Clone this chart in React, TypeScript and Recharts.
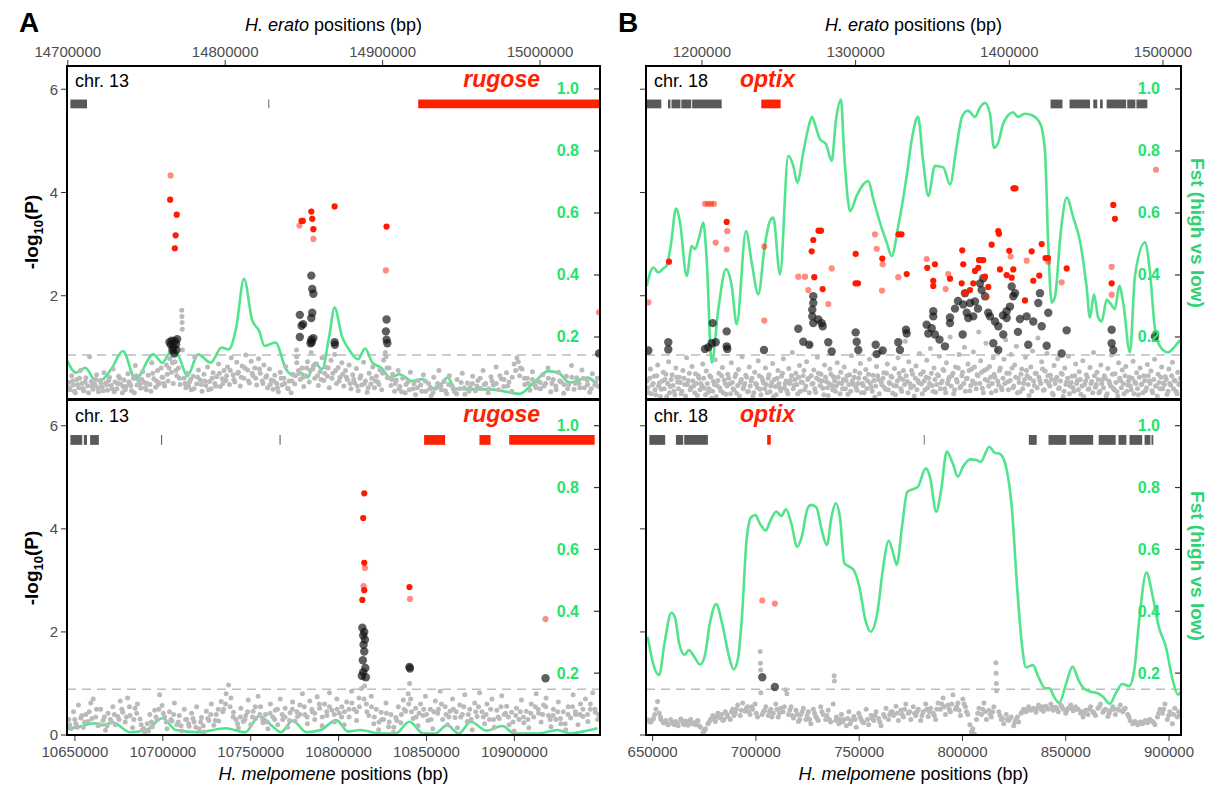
import React from "react";
import { ComposedChart, XAxis, YAxis, Scatter, Line, ReferenceLine, ReferenceArea } from "recharts";

type Pt = [number, number];
type Span = [number, number];

const FONT = "'Liberation Sans', Arial, Helvetica, sans-serif";
const TICK_GREY = "#4d4d4d";
const FST_LINE = "#52e48c";
const FST_TEXT = "#1fe46d";
const FST_TITLE = "#2dd375";
const RED = "#ff2200";
const GENE_GREY = "#595959";

// ---------- panel A : chr. 13 ----------
const erato13Ticks = [14700000, 14800000, 14900000, 15000000];
const melp13Ticks = [10650000, 10700000, 10750000, 10800000, 10850000, 10900000];

const fst13e: Pt[] = [
  [14699600, 0.123], [14705300, 0.085], [14711000, 0.101], [14717900, 0.058], [14722400, 0.064], [14728100, 0.101],
  [14735000, 0.155], [14743000, 0.064], [14754300, 0.144], [14760000, 0.117], [14765800, 0.155], [14770300, 0.139],
  [14776000, 0.074], [14782800, 0.144], [14790800, 0.117], [14797700, 0.166], [14802200, 0.16], [14806800, 0.225],
  [14812000, 0.388], [14817000, 0.257], [14821600, 0.219], [14825000, 0.171], [14831900, 0.182], [14838700, 0.096],
  [14844400, 0.074], [14847800, 0.085], [14852400, 0.069], [14856900, 0.117], [14861500, 0.096], [14866100, 0.203],
  [14869500, 0.295], [14874100, 0.203], [14878600, 0.16], [14884300, 0.128], [14888900, 0.163], [14893500, 0.117],
  [14899100, 0.101], [14904800, 0.069], [14910600, 0.08], [14918600, 0.058], [14925300, 0.064], [14933400, 0.031],
  [14941400, 0.069], [14945900, 0.034], [14955000, 0.031], [14968700, 0.031], [14986900, 0.017], [14996100, 0.053],
  [15005200, 0.09], [15012000, 0.083], [15018900, 0.053], [15030300, 0.069], [15037100, 0.04],
];

const red13e: Pt[] = [
  [14765000, 3.86], [14769200, 3.57], [14768500, 3.17], [14768000, 2.92], [14848500, 3.45], [14849300, 3.45],
  [14854700, 3.63], [14855300, 3.49], [14856000, 3.29], [14869500, 3.73], [14902500, 3.34],
];
const red13eFaint: Pt[] = [[14765300, 4.33], [14847200, 3.36], [14856000, 3.1], [14902100, 2.49], [15037500, 1.68]];

const black13e: Pt[] = [
  [14764600, 1.1], [14765500, 1.05], [14766500, 0.95], [14767000, 1.0], [14768000, 1.12], [14768800, 1.06],
  [14767500, 0.88], [14769000, 0.95], [14766000, 1.13], [14769500, 1.16], [14847400, 1.63], [14848500, 1.42],
  [14847400, 1.2], [14849500, 1.45], [14854700, 2.39], [14855300, 2.13], [14856000, 2.04], [14855300, 1.67],
  [14854700, 1.57], [14856000, 1.18], [14854700, 1.15], [14854200, 1.08], [14855000, 1.1], [14869500, 1.1],
  [14869700, 1.05], [14902500, 1.54], [14902100, 1.31], [14902500, 1.15], [14903000, 1.08], [15037500, 0.88],
];

const gray13e: Pt[] = [
  [14700500, 0.32], [14701500, 0.18], [14702500, 0.45], [14703500, 0.27], [14704800, 0.12], [14705600, 0.38],
  [14706900, 0.22], [14708000, 0.55], [14709100, 0.3], [14710200, 0.16], [14711500, 0.41], [14712600, 0.25],
  [14713800, 0.82], [14714900, 0.34], [14716000, 0.19], [14717200, 0.28], [14718300, 0.47], [14719500, 0.14],
  [14720700, 0.36], [14721800, 0.23], [14723000, 0.51], [14724100, 0.31], [14725300, 0.17], [14726500, 0.42],
  [14727600, 0.26], [14728800, 0.58], [14730000, 0.33], [14731200, 0.2], [14732300, 0.44], [14733500, 0.29],
  [14734700, 0.12], [14735800, 0.37], [14737000, 0.24], [14738200, 0.49], [14739400, 0.3], [14740500, 0.16],
  [14741700, 0.4], [14742900, 0.65], [14744000, 0.27], [14745200, 0.35], [14746400, 0.21], [14747600, 0.53],
  [14748700, 0.32], [14749900, 0.18], [14751100, 0.46], [14752200, 0.28], [14753400, 0.7], [14754600, 0.39],
  [14755800, 0.23], [14757000, 0.55], [14758100, 0.31], [14759300, 0.6], [14760400, 0.42], [14761500, 0.25],
  [14762600, 0.66], [14763700, 0.35], [14764800, 0.78], [14765900, 0.52], [14767000, 0.3], [14768100, 0.72],
  [14769200, 0.45], [14770300, 0.6], [14771400, 0.28], [14772400, 1.72], [14772500, 1.6], [14772600, 1.48],
  [14772700, 1.35], [14772800, 0.95], [14773900, 0.4], [14775000, 0.22], [14776100, 0.5], [14777300, 0.33],
  [14778400, 0.18], [14779600, 0.44], [14780700, 0.81], [14781900, 0.29], [14783000, 0.56], [14784200, 0.37],
  [14785300, 0.15], [14786500, 0.48], [14787700, 0.26], [14788800, 0.62], [14790000, 0.34], [14791100, 0.2],
  [14792300, 0.51], [14793400, 0.3], [14794600, 0.43], [14795800, 0.68], [14796900, 0.24], [14798100, 0.39],
  [14799200, 0.55], [14800400, 0.36], [14801500, 0.62], [14802700, 0.28], [14803800, 0.8], [14805000, 0.47],
  [14806100, 0.33], [14807300, 0.71], [14808400, 0.52], [14809600, 0.25], [14810800, 0.64], [14811900, 0.4],
  [14813100, 0.85], [14814200, 0.56], [14815400, 0.31], [14816500, 0.73], [14817700, 0.45], [14818800, 0.6],
  [14820000, 0.27], [14821200, 0.78], [14822300, 0.5], [14823500, 0.35], [14824600, 0.66], [14825800, 0.42],
  [14826900, 0.22], [14828100, 0.58], [14829200, 0.37], [14830400, 0.19], [14831500, 0.46], [14832700, 0.3],
  [14833800, 0.14], [14835000, 0.52], [14836100, 0.27], [14837300, 0.4], [14838400, 0.63], [14839600, 0.21],
  [14840700, 0.35], [14841900, 0.12], [14843000, 0.48], [14844200, 0.29], [14845300, 0.95], [14845400, 0.82],
  [14845500, 0.7], [14846500, 0.55], [14847700, 0.38], [14848800, 0.6], [14849900, 0.24], [14851100, 0.45],
  [14852300, 0.72], [14853400, 0.33], [14854600, 0.9], [14855700, 0.58], [14856900, 0.4], [14858000, 0.68],
  [14859200, 0.26], [14860300, 0.53], [14861500, 0.8], [14862600, 0.36], [14863800, 0.62], [14864900, 0.44],
  [14866100, 0.22], [14867200, 0.75], [14868400, 0.5], [14869500, 0.86], [14870700, 0.3], [14871800, 0.61],
  [14873000, 0.42], [14874100, 0.7], [14875300, 0.25], [14876400, 0.55], [14877600, 0.38], [14878700, 0.66],
  [14879900, 0.2], [14881000, 0.47], [14882200, 0.31], [14883300, 0.59], [14884500, 0.16], [14885600, 0.4],
  [14886800, 0.27], [14887900, 0.71], [14889100, 0.35], [14890200, 0.13], [14891400, 0.5], [14892500, 0.29],
  [14893700, 0.62], [14894800, 0.22], [14896000, 0.44], [14897100, 0.33], [14898300, 0.56], [14899400, 0.18],
  [14900600, 0.75], [14901700, 0.9], [14902200, 0.82], [14903000, 0.41], [14904100, 0.6], [14905300, 0.26],
  [14906400, 0.48], [14907600, 0.15], [14908700, 0.37], [14909900, 0.55], [14911000, 0.24], [14912700, 0.4],
  [14914300, 0.12], [14916000, 0.33], [14917600, 0.52], [14919300, 0.2], [14920900, 0.08], [14922600, 0.36],
  [14924200, 0.27], [14925900, 0.47], [14927500, 0.15], [14929200, 0.3], [14930800, 0.06], [14932500, 0.42],
  [14934100, 0.22], [14935800, 0.55], [14937400, 0.18], [14939100, 0.34], [14940700, 0.1], [14942400, 0.45],
  [14944000, 0.26], [14945700, 0.14], [14947300, 0.38], [14949000, 0.2], [14950600, 0.5], [14952300, 0.09],
  [14953900, 0.31], [14955600, 0.23], [14957200, 0.44], [14958900, 0.16], [14960500, 0.36], [14962200, 0.21],
  [14963800, 0.55], [14965500, 0.3], [14967100, 0.12], [14968800, 0.43], [14970400, 0.27], [14972100, 0.62],
  [14973700, 0.18], [14975400, 0.39], [14977000, 0.24], [14978700, 0.51], [14980300, 0.33], [14982000, 0.15],
  [14983600, 0.68], [14985300, 0.8], [14986200, 0.72], [14987000, 0.45], [14988600, 0.58], [14990300, 0.28],
  [14991900, 0.4], [14993600, 0.17], [14995200, 0.53], [14996900, 0.26], [14998500, 0.35], [15000200, 0.2],
  [15001800, 0.47], [15003500, 0.3], [15005100, 0.6], [15006800, 0.14], [15008400, 0.38], [15010100, 0.25],
  [15011700, 0.52], [15013400, 0.33], [15015000, 0.11], [15016700, 0.44], [15018300, 0.28], [15020000, 0.65],
  [15021600, 0.19], [15023300, 0.41], [15024900, 0.3], [15026600, 0.56], [15028200, 0.22], [15029900, 0.37],
  [15031500, 0.13], [15033200, 0.49], [15034800, 0.27], [15036400, 0.4],
];

// denser low part of the band
const gray13eLow: Pt[] = [
  [14701000, 0.22], [14703000, 0.35], [14704200, 0.15], [14706300, 0.28], [14707500, 0.4], [14709600, 0.2],
  [14711000, 0.33], [14713200, 0.12], [14715500, 0.25], [14717800, 0.38], [14719000, 0.22], [14721200, 0.3],
  [14722500, 0.16], [14724700, 0.27], [14726000, 0.36], [14728200, 0.2], [14729500, 0.14], [14731800, 0.3],
  [14733000, 0.4], [14735200, 0.24], [14736500, 0.18], [14738800, 0.33], [14740000, 0.26], [14742300, 0.12],
  [14743500, 0.45], [14745800, 0.28], [14747000, 0.38], [14749300, 0.22], [14750500, 0.3], [14752800, 0.15],
  [14754000, 0.5], [14756400, 0.35], [14757500, 0.28], [14759900, 0.42], [14761000, 0.3], [14763200, 0.48],
  [14764300, 0.6], [14766500, 0.7], [14768700, 0.55], [14770900, 0.4], [14774500, 0.3], [14776700, 0.25],
  [14778000, 0.38], [14780200, 0.2], [14782500, 0.42], [14784800, 0.28], [14787100, 0.35], [14789400, 0.18],
  [14791700, 0.4], [14794000, 0.25], [14796300, 0.5], [14798600, 0.3], [14800900, 0.45], [14803200, 0.55],
  [14805500, 0.38], [14807900, 0.5], [14810200, 0.42], [14812500, 0.6], [14814800, 0.35], [14817100, 0.5],
  [14819400, 0.4], [14821700, 0.58], [14824000, 0.3], [14826300, 0.45], [14828600, 0.28], [14830900, 0.35],
  [14833200, 0.22], [14835500, 0.4], [14837800, 0.3], [14840100, 0.2], [14842400, 0.35], [14844700, 0.45],
  [14847100, 0.5], [14849400, 0.42], [14851700, 0.6], [14854000, 0.55], [14856300, 0.65], [14858600, 0.45],
  [14860900, 0.38], [14863200, 0.5], [14865500, 0.6], [14867800, 0.4], [14870100, 0.55], [14872400, 0.35],
  [14874700, 0.48], [14877000, 0.42], [14879300, 0.3], [14881600, 0.38], [14883900, 0.25], [14886200, 0.45],
  [14888500, 0.3], [14890800, 0.22], [14893100, 0.4], [14895400, 0.35], [14897700, 0.28], [14900000, 0.5],
  [14902800, 0.6], [14905800, 0.38], [14908100, 0.3], [14910400, 0.2], [14912000, 0.14], [14914900, 0.28],
  [14917000, 0.18], [14919900, 0.3], [14922000, 0.22], [14924900, 0.15], [14927000, 0.35], [14929900, 0.2],
  [14932000, 0.12], [14934900, 0.3], [14937000, 0.25], [14939900, 0.16], [14942000, 0.28], [14944900, 0.2],
  [14947000, 0.1], [14949900, 0.32], [14952000, 0.22], [14954900, 0.15], [14957000, 0.3], [14959900, 0.25],
  [14962000, 0.4], [14964600, 0.28], [14967300, 0.2], [14969500, 0.35], [14972200, 0.3], [14974500, 0.45],
  [14977200, 0.38], [14979500, 0.25], [14982300, 0.42], [14984500, 0.55], [14987500, 0.6], [14990100, 0.4],
  [14992500, 0.3], [14995200, 0.38], [14997500, 0.22], [15000100, 0.32], [15002500, 0.25], [15005300, 0.4],
  [15007500, 0.3], [15010200, 0.18], [15012500, 0.35], [15015300, 0.28], [15017500, 0.2], [15020200, 0.42],
  [15022500, 0.3], [15025300, 0.22], [15027500, 0.4], [15030200, 0.28], [15032500, 0.2], [15035200, 0.32],
  [15037000, 0.24],
];

const genes13eGrey: Span[] = [[14701660, 14712200], [14827400, 14828000]];
const genes13eRed: Span[] = [[14922600, 15037900]];

const fst13m: Pt[] = [
  [10645600, 0.02], [10652300, 0.027], [10661400, 0.038], [10665900, 0.032], [10671500, 0.04], [10681600, 0.009],
  [10690600, 0.016], [10699700, 0.054], [10707500, 0.016], [10719900, 0.009], [10735700, 0.022], [10746900, 0.009],
  [10754800, 0.061], [10762600, 0.027], [10767100, 0.009], [10773900, 0.046], [10781800, 0.009], [10789700, 0.016],
  [10798700, 0.048], [10805400, 0.011], [10812200, 0.016], [10823400, 0.005], [10832500, 0.005], [10840300, 0.043],
  [10848200, 0.005], [10854900, 0.005], [10861700, 0.032], [10868400, 0.005], [10875200, 0.043], [10884200, 0.014],
  [10893200, 0.029], [10899900, 0.005], [10913400, 0.005], [10924700, 0.016], [10931500, 0.005], [10940500, 0.013],
  [10947200, 0.022],
];

const red13m: Pt[] = [[10814600, 4.69], [10814000, 4.21], [10814600, 3.34], [10814600, 2.81], [10813500, 2.62], [10840300, 2.87]];
const red13mFaint: Pt[] = [[10815000, 3.24], [10814200, 2.89], [10840600, 2.64], [10917700, 2.25]];
const black13m: Pt[] = [
  [10813500, 2.08], [10814600, 2.0], [10814000, 1.93], [10815000, 1.85], [10814200, 1.75], [10814600, 1.62],
  [10813800, 1.45], [10815200, 1.3], [10814000, 1.22], [10813200, 1.15], [10815500, 1.12], [10840300, 1.32],
  [10840600, 1.29], [10917700, 1.1],
];

const gray13m: Pt[] = [
  [10646500, 0.3], [10647800, 0.12], [10649200, 0.45], [10650600, 0.22], [10652000, 0.58], [10653400, 0.33],
  [10654800, 0.15], [10656200, 0.4], [10657600, 0.26], [10659000, 0.62], [10660400, 0.7], [10661800, 0.35],
  [10663200, 0.18], [10664600, 0.5], [10666000, 0.28], [10667400, 0.09], [10668800, 0.42], [10670200, 0.3],
  [10671600, 0.55], [10673000, 0.2], [10674400, 0.36], [10675800, 0.66], [10677200, 0.44], [10678600, 0.25],
  [10680000, 0.72], [10681400, 0.38], [10682800, 0.14], [10684200, 0.52], [10685600, 0.6], [10687000, 0.31],
  [10688400, 0.1], [10689800, 0.05], [10691200, 0.22], [10692600, 0.4], [10694000, 0.16], [10695400, 0.48],
  [10696800, 0.3], [10698200, 0.78], [10699600, 0.57], [10701000, 0.35], [10702400, 0.12], [10703800, 0.45],
  [10705200, 0.27], [10706600, 0.62], [10708000, 0.2], [10709400, 0.38], [10710800, 0.08], [10712200, 0.5],
  [10713600, 0.3], [10715000, 0.17], [10716400, 0.42], [10717800, 0.25], [10719200, 0.55], [10720600, 0.12],
  [10722000, 0.34], [10723400, 0.06], [10724800, 0.46], [10726200, 0.28], [10727600, 0.6], [10729000, 0.19],
  [10730400, 0.4], [10731800, 0.27], [10733200, 0.65], [10734600, 0.5], [10736000, 0.8], [10737400, 0.97],
  [10738800, 0.72], [10740200, 0.44], [10741600, 0.3], [10743000, 0.14], [10744400, 0.52], [10745800, 0.26],
  [10747200, 0.38], [10748600, 0.68], [10750000, 0.2], [10751400, 0.46], [10752800, 0.32], [10754200, 0.75],
  [10755600, 0.55], [10757000, 0.24], [10758400, 0.4], [10759800, 0.12], [10761200, 0.6], [10762600, 0.35],
  [10764000, 0.48], [10765400, 0.2], [10766800, 0.7], [10768200, 0.3], [10769600, 0.52], [10771000, 0.15],
  [10772400, 0.43], [10773800, 0.64], [10775200, 0.27], [10776600, 0.36], [10778000, 0.58], [10779400, 0.8],
  [10780800, 0.4], [10782200, 0.22], [10783600, 0.66], [10785000, 0.45], [10786400, 0.3], [10787800, 0.74],
  [10789200, 0.52], [10790600, 0.18], [10792000, 0.6], [10793400, 0.38], [10794800, 0.82], [10796200, 0.48],
  [10797600, 0.25], [10799000, 0.7], [10800400, 0.42], [10801800, 0.55], [10803200, 0.2], [10804600, 0.64],
  [10806000, 0.35], [10807400, 0.85], [10808800, 0.5], [10810200, 0.28], [10811600, 0.72], [10813000, 0.9],
  [10814200, 1.1], [10814800, 0.95], [10815800, 0.6], [10817200, 0.38], [10818600, 0.75], [10820000, 0.22],
  [10821400, 0.5], [10822800, 0.1], [10824200, 0.44], [10825600, 0.3], [10827000, 0.62], [10828400, 0.16],
  [10829800, 0.4], [10831200, 0.05], [10832600, 0.34], [10834000, 0.55], [10835400, 0.24], [10836800, 0.68],
  [10838200, 0.46], [10839600, 0.8], [10840400, 1.0], [10841000, 0.7], [10842400, 0.32], [10843800, 0.52],
  [10845200, 0.18], [10846600, 0.6], [10848000, 0.38], [10849400, 0.75], [10850800, 0.28], [10852200, 0.5],
  [10853600, 0.12], [10855000, 0.66], [10856400, 0.42], [10857800, 0.85], [10859200, 0.3], [10860600, 0.55],
  [10862000, 0.2], [10863400, 0.46], [10864800, 0.7], [10866200, 0.34], [10867600, 0.14], [10869000, 0.58],
  [10870400, 0.4], [10871800, 0.78], [10873200, 0.26], [10874600, 0.5], [10876000, 0.1], [10877400, 0.62],
  [10878800, 0.36], [10880200, 0.82], [10881600, 0.45], [10883000, 0.22], [10884400, 0.6], [10885800, 0.3],
  [10887200, 0.7], [10888600, 0.15], [10890000, 0.48], [10891400, 0.32], [10892800, 0.76], [10894200, 0.4],
  [10895600, 0.56], [10897000, 0.2], [10898400, 0.44], [10899800, 0.08], [10901200, 0.52], [10902600, 0.3],
  [10904000, 0.68], [10905400, 0.24], [10906800, 0.46], [10908200, 0.14], [10909600, 0.6], [10911000, 0.35],
  [10912400, 0.8], [10913800, 0.42], [10915200, 0.25], [10916600, 0.58], [10918000, 0.72], [10919400, 0.38],
  [10920800, 0.16], [10922200, 0.5], [10923600, 0.3], [10925000, 0.64], [10926400, 0.22], [10927800, 0.45],
  [10929200, 0.1], [10930600, 0.55], [10932000, 0.33], [10933400, 0.78], [10934800, 0.4], [10936200, 0.2],
  [10937600, 0.6], [10939000, 0.36], [10940400, 0.7], [10941800, 0.26], [10943200, 0.5], [10944600, 0.82],
  [10946000, 0.44], [10947400, 0.3],
];

const gray13mLow: Pt[] = [
  [10647000, 0.2], [10649900, 0.3], [10651300, 0.15], [10653900, 0.38], [10655500, 0.25], [10658100, 0.45],
  [10659700, 0.32], [10662300, 0.5], [10664000, 0.2], [10666700, 0.35], [10668300, 0.18], [10670800, 0.25],
  [10672400, 0.4], [10675100, 0.3], [10676700, 0.5], [10679300, 0.35], [10681000, 0.55], [10683500, 0.3],
  [10685100, 0.42], [10687700, 0.2], [10689300, 0.12], [10691900, 0.08], [10693500, 0.25], [10696100, 0.35],
  [10697700, 0.5], [10700300, 0.42], [10702000, 0.25], [10704600, 0.3], [10706200, 0.4], [10708800, 0.25],
  [10710400, 0.18], [10713000, 0.3], [10714700, 0.22], [10717200, 0.32], [10718800, 0.15], [10721500, 0.25],
  [10723000, 0.18], [10725600, 0.32], [10727300, 0.4], [10729900, 0.28], [10731500, 0.5], [10734100, 0.45],
  [10735700, 0.6], [10738300, 0.55], [10740000, 0.35], [10742500, 0.22], [10744100, 0.35], [10746700, 0.3],
  [10748300, 0.45], [10751000, 0.35], [10752600, 0.55], [10755200, 0.4], [10756800, 0.3], [10759400, 0.25],
  [10761000, 0.42], [10763600, 0.3], [10765200, 0.5], [10767900, 0.4], [10769500, 0.35], [10772100, 0.28],
  [10773700, 0.5], [10776300, 0.45], [10778000, 0.4], [10780500, 0.55], [10782100, 0.35], [10784800, 0.5],
  [10786400, 0.42], [10789000, 0.6], [10790700, 0.35], [10793200, 0.45], [10794800, 0.55], [10797500, 0.4],
  [10799100, 0.5], [10801700, 0.35], [10803300, 0.45], [10805900, 0.5], [10807600, 0.62], [10810200, 0.45],
  [10811800, 0.55], [10814500, 0.7], [10816100, 0.45], [10818700, 0.55], [10820300, 0.35], [10823000, 0.25],
  [10824600, 0.3], [10827200, 0.42], [10828800, 0.25], [10831400, 0.15], [10833100, 0.28], [10835700, 0.4],
  [10837300, 0.5], [10839900, 0.6], [10841500, 0.45], [10844100, 0.35], [10845800, 0.42], [10848400, 0.5],
  [10850000, 0.4], [10852600, 0.3], [10854200, 0.45], [10856800, 0.5], [10858500, 0.6], [10861100, 0.4],
  [10862700, 0.35], [10865300, 0.5], [10866900, 0.45], [10869500, 0.35], [10871200, 0.55], [10873800, 0.4],
  [10875400, 0.3], [10878000, 0.45], [10879600, 0.55], [10882300, 0.35], [10883900, 0.4], [10886500, 0.5],
  [10888100, 0.3], [10890700, 0.35], [10892400, 0.55], [10895000, 0.42], [10896600, 0.35], [10899200, 0.25],
  [10900800, 0.38], [10903400, 0.45], [10905100, 0.35], [10907700, 0.3], [10909300, 0.42], [10911900, 0.55],
  [10913500, 0.5], [10916100, 0.4], [10917800, 0.55], [10920400, 0.3], [10922000, 0.38], [10924600, 0.45],
  [10926200, 0.32], [10928900, 0.22], [10930500, 0.4], [10933100, 0.55], [10934700, 0.45], [10937300, 0.4],
  [10939000, 0.5], [10941600, 0.4], [10943200, 0.6], [10945800, 0.5], [10947800, 0.4],
];

const genes13mGrey: Span[] = [
  [10647440, 10654160], [10655070, 10656890], [10658660, 10663610], [10699000, 10699600], [10766400, 10767000],
];
const genes13mRed: Span[] = [[10848640, 10860600], [10880130, 10886450], [10897050, 10945680]];

// ---------- panel B : chr. 18 ----------
const erato18Ticks = [1200000, 1300000, 1400000, 1500000];
const melp18Ticks = [650000, 700000, 750000, 800000, 850000, 900000];

const fst18e: Pt[] = [
  [1164100, 0.365], [1168350, 0.424], [1171600, 0.408], [1174660, 0.42], [1177070, 0.431], [1179870, 0.5],
  [1183120, 0.614], [1185720, 0.57], [1190080, 0.397], [1193330, 0.493], [1195480, 0.483], [1198080, 0.52],
  [1200880, 0.569], [1203090, 0.45], [1206340, 0.117], [1210640, 0.289], [1215650, 0.419], [1219360, 0.365],
  [1222610, 0.241], [1228660, 0.542], [1232370, 0.44], [1236660, 0.338], [1241020, 0.5], [1244270, 0.574],
  [1246420, 0.585], [1250780, 0.402], [1256180, 0.784], [1259430, 0.752], [1262040, 0.698], [1265940, 0.795],
  [1269000, 0.87], [1271600, 0.91], [1273550, 0.886], [1276800, 0.838], [1280710, 0.822], [1284410, 0.768],
  [1287210, 0.9], [1290470, 0.966], [1292420, 0.8], [1295020, 0.64], [1296320, 0.606], [1300680, 0.655],
  [1304970, 0.692], [1308220, 0.703], [1311480, 0.645], [1315840, 0.569], [1320200, 0.505], [1323450, 0.461],
  [1327740, 0.558], [1333210, 0.719], [1336660, 0.84], [1340560, 0.91], [1344010, 0.763], [1347260, 0.655],
  [1351620, 0.752], [1357020, 0.747], [1361380, 0.692], [1365740, 0.816], [1369190, 0.91], [1373090, 0.93],
  [1377650, 0.91], [1380900, 0.94], [1384150, 0.955], [1387410, 0.92], [1390010, 0.81], [1392810, 0.827],
  [1395870, 0.886], [1399120, 0.915], [1402370, 0.925], [1405620, 0.91], [1410180, 0.92], [1414730, 0.915],
  [1419940, 0.89], [1423190, 0.8], [1425340, 0.494], [1427550, 0.311], [1429700, 0.33], [1433410, 0.536],
  [1437310, 0.65], [1441610, 0.585], [1445960, 0.51], [1450320, 0.359], [1452460, 0.262], [1455070, 0.338],
  [1457870, 0.262], [1460080, 0.25], [1463330, 0.321], [1465480, 0.31], [1468730, 0.29], [1471530, 0.365],
  [1474130, 0.31], [1478490, 0.15], [1481740, 0.397], [1488250, 0.505], [1491500, 0.41], [1494760, 0.225],
  [1498010, 0.17], [1503220, 0.15], [1507770, 0.17], [1511030, 0.19],
];

const red18e: Pt[] = [
  [1178560, 2.66], [1216100, 3.43], [1271400, 2.86], [1272440, 3.08], [1275830, 3.26], [1277450, 3.26],
  [1273090, 2.36], [1278560, 2.13], [1300030, 2.81], [1299900, 2.24], [1301530, 2.24], [1317340, 2.72],
  [1327880, 3.19], [1329830, 3.19], [1333210, 2.42], [1346610, 2.54], [1351620, 2.61], [1350510, 2.29],
  [1350510, 2.19], [1361380, 2.33], [1368990, 2.24], [1369380, 2.88], [1370030, 2.61], [1371140, 2.05],
  [1374390, 2.11], [1376540, 2.24], [1377650, 2.48], [1379790, 2.54], [1380250, 2.69], [1381880, 2.69],
  [1384150, 2.37], [1383050, 2.69], [1386300, 2.17], [1388510, 2.99], [1392810, 3.25], [1393260, 3.2],
  [1393910, 2.51], [1398270, 2.4], [1399960, 2.87], [1402570, 2.51], [1401530, 2.35], [1402700, 4.08],
  [1404000, 4.08], [1410180, 1.91], [1414540, 2.86], [1415580, 2.29], [1419490, 2.39], [1421050, 3.0],
  [1423530, 2.73], [1425150, 2.73], [1437310, 2.53], [1466580, 2.24], [1467630, 3.76], [1468730, 3.49],
];
const red18eFaint: Pt[] = [
  [1165100, 1.87], [1201990, 3.78], [1203940, 3.78], [1205890, 3.78], [1207840, 3.78], [1208950, 3.03],
  [1216490, 3.25], [1216100, 2.9], [1240560, 2.95], [1240560, 1.52], [1262690, 2.37], [1267040, 2.37],
  [1269190, 2.11], [1282200, 1.84], [1284410, 2.53], [1312590, 3.19], [1313690, 2.91], [1317600, 2.61],
  [1317140, 2.1], [1327740, 2.36], [1346220, 2.71], [1358580, 2.13], [1360280, 2.42], [1385260, 1.97],
  [1400870, 2.76], [1411290, 2.68], [1425340, 2.66], [1434060, 2.26], [1466580, 2.56], [1466580, 2.02],
  [1495410, 4.44],
];
const black18e: Pt[] = [
  [1165100, 0.94], [1178110, 1.1], [1178110, 0.96], [1201990, 0.97], [1204130, 1.0], [1206340, 1.08],
  [1206990, 1.47], [1208950, 1.1], [1216100, 1.31], [1216100, 1.02], [1216490, 0.97], [1240370, 0.95],
  [1262690, 1.36], [1265940, 1.11], [1269840, 1.05], [1272440, 1.99], [1272440, 1.86], [1271790, 1.73],
  [1271790, 1.6], [1272440, 1.47], [1275700, 1.54], [1277910, 1.47], [1278560, 1.41], [1282200, 1.1],
  [1284410, 0.92], [1300030, 1.29], [1300680, 1.11], [1301720, 0.95], [1313040, 1.05], [1313690, 0.87],
  [1317600, 0.94], [1327740, 1.1], [1328850, 0.95], [1332760, 1.34], [1333210, 1.27], [1346220, 1.44],
  [1347260, 1.27], [1349470, 1.37], [1350510, 1.6], [1350510, 1.7], [1351620, 1.25], [1354560, 1.15],
  [1358130, 1.02], [1361380, 1.58], [1361380, 1.47], [1364640, 1.75], [1366590, 1.9], [1369640, 1.25],
  [1371140, 2.05], [1370030, 1.83], [1372250, 1.67], [1373290, 1.57], [1374390, 1.86], [1377650, 1.89],
  [1376540, 1.6], [1379600, 1.75], [1380900, 2.24], [1383050, 2.34], [1382000, 2.11], [1384150, 1.99],
  [1387410, 1.6], [1389560, 1.08], [1392810, 0.95], [1386300, 1.67], [1390660, 1.5], [1392810, 1.41],
  [1395870, 1.62], [1396060, 1.25], [1398270, 1.7], [1400420, 1.79], [1401530, 2.18], [1402570, 1.99],
  [1403680, 2.05], [1398270, 1.57], [1405620, 1.3], [1406920, 1.55], [1411290, 1.6], [1412320, 1.05],
  [1415580, 1.5], [1418830, 1.86], [1419940, 2.05], [1421050, 1.41], [1425340, 1.67], [1424290, 1.03],
  [1434060, 0.88], [1437310, 1.33], [1466580, 1.34], [1466580, 1.08], [1467630, 0.95], [1494760, 1.21],
];

const gray18e: Pt[] = [
  [1164200, 0.35], [1165300, 0.12], [1166500, 0.58], [1167600, 0.27], [1168900, 0.44], [1170000, 0.08],
  [1171200, 0.66], [1172300, 0.31], [1173500, 0.19], [1174800, 0.52], [1175900, 0.38], [1177100, 0.05],
  [1178300, 0.72], [1179400, 0.24], [1180600, 0.47], [1181700, 0.15], [1183000, 0.6], [1184100, 0.33],
  [1185300, 0.42], [1186500, 0.1], [1187600, 0.55], [1188800, 0.28], [1190000, 0.8], [1191100, 0.36],
  [1192300, 0.18], [1193500, 0.63], [1194600, 0.25], [1195800, 0.49], [1197000, 0.07], [1198100, 0.4],
  [1199300, 0.3], [1200500, 0.68], [1201600, 0.21], [1202800, 0.54], [1204000, 0.13], [1205100, 0.45],
  [1206300, 0.02], [1207500, 0.34], [1208600, 0.76], [1209800, 0.26], [1211000, 0.5], [1212100, 0.16],
  [1213300, 0.61], [1214500, 0.37], [1215600, 0.09], [1216800, 0.48], [1218000, 0.29], [1219100, 0.7],
  [1220300, 0.2], [1221500, 0.43], [1222600, 0.11], [1223800, 0.57], [1225000, 0.32], [1226100, 0.82],
  [1227300, 0.24], [1228500, 0.46], [1229600, 0.14], [1230800, 0.62], [1232000, 0.35], [1233100, 0.06],
  [1234300, 0.52], [1235500, 0.28], [1236600, 0.74], [1237800, 0.19], [1239000, 0.41], [1240100, 0.31],
  [1241300, 0.6], [1242500, 0.12], [1243600, 0.47], [1244800, 0.25], [1246000, 0.69], [1247100, 0.38],
  [1248300, 0.08], [1249500, 0.55], [1250600, 0.22], [1251800, 0.44], [1253000, 0.78], [1254100, 0.3],
  [1255300, 0.16], [1256500, 0.59], [1257600, 0.36], [1258800, 0.9], [1260000, 0.27], [1261100, 0.5],
  [1262300, 0.1], [1263500, 0.65], [1264600, 0.33], [1265800, 0.45], [1267000, 0.18], [1268100, 0.72],
  [1269300, 0.4], [1270500, 1.05], [1271600, 0.29], [1272800, 0.56], [1274000, 0.13], [1275100, 0.81],
  [1276300, 0.37], [1277500, 0.48], [1278600, 0.21], [1279800, 0.66], [1281000, 0.34], [1282100, 0.07],
  [1283300, 0.58], [1284500, 0.26], [1285600, 0.43], [1286800, 0.15], [1288000, 0.7], [1289100, 0.31],
  [1290300, 0.52], [1291500, 0.2], [1292600, 0.62], [1293800, 0.36], [1295000, 0.09], [1296100, 0.47],
  [1297300, 0.84], [1298500, 0.28], [1299600, 0.54], [1300800, 0.17], [1302000, 0.4], [1303100, 0.69],
  [1304300, 0.3], [1305500, 0.12], [1306600, 0.57], [1307800, 0.35], [1309000, 0.77], [1310100, 0.23],
  [1311300, 0.46], [1312500, 0.04], [1313600, 0.63], [1314800, 0.38], [1316000, 0.92], [1317100, 0.27],
  [1318300, 0.51], [1319500, 0.19], [1320600, 0.68], [1321800, 0.32], [1323000, 0.44], [1324100, 0.11],
  [1325300, 0.59], [1326500, 0.25], [1327600, 0.8], [1328800, 0.41], [1330000, 0.15], [1331100, 0.55],
  [1332300, 1.12], [1333500, 0.34], [1334600, 0.72], [1335800, 0.22], [1337000, 0.48], [1338100, 0.06],
  [1339300, 0.64], [1340500, 0.36], [1341600, 0.88], [1342800, 0.29], [1344000, 0.53], [1345100, 0.18],
  [1346300, 0.75], [1347500, 0.4], [1348600, 0.98], [1349800, 0.26], [1351000, 0.6], [1352100, 0.13],
  [1353300, 0.47], [1354500, 0.83], [1355600, 0.31], [1356800, 0.57], [1358000, 0.2], [1359100, 0.7],
  [1360300, 0.37], [1361500, 1.2], [1362600, 0.45], [1363800, 0.1], [1365000, 0.62], [1366100, 0.33],
  [1367300, 0.86], [1368500, 0.24], [1369600, 0.52], [1370800, 1.0], [1372000, 0.39], [1373100, 0.68],
  [1374300, 0.16], [1375500, 0.58], [1376600, 0.91], [1377800, 0.3], [1379000, 0.47], [1380100, 1.3],
  [1381300, 0.74], [1382500, 0.21], [1383600, 0.55], [1384800, 1.08], [1386000, 0.35], [1387100, 0.63],
  [1388300, 0.12], [1389500, 0.8], [1390600, 0.42], [1391800, 0.95], [1393000, 0.27], [1394100, 0.6],
  [1395300, 0.18], [1396500, 0.77], [1397600, 1.15], [1398800, 0.33], [1400000, 0.5], [1401100, 0.86],
  [1402300, 0.22], [1403500, 0.66], [1404600, 1.02], [1405800, 0.4], [1407000, 0.14], [1408100, 0.58],
  [1409300, 0.3], [1410500, 0.81], [1411600, 0.45], [1412800, 0.07], [1414000, 0.62], [1415100, 0.93],
  [1416300, 0.26], [1417500, 0.5], [1418600, 1.18], [1419800, 0.36], [1421000, 0.72], [1422100, 0.17],
  [1423300, 0.54], [1424500, 0.88], [1425600, 0.3], [1426800, 0.46], [1428000, 0.11], [1429100, 0.65],
  [1430300, 0.38], [1431500, 0.78], [1432600, 0.22], [1433800, 0.5], [1435000, 0.05], [1436100, 0.6],
  [1437300, 0.33], [1438500, 0.83], [1439600, 0.25], [1440800, 0.44], [1442000, 0.15], [1443100, 0.68],
  [1444300, 0.36], [1445500, 0.53], [1446600, 0.09], [1447800, 0.74], [1449000, 0.28], [1450100, 0.47],
  [1451300, 0.19], [1452500, 0.61], [1453600, 0.34], [1454800, 0.9], [1456000, 0.23], [1457100, 0.52],
  [1458300, 0.12], [1459500, 0.66], [1460600, 0.38], [1461800, 0.45], [1463000, 0.06], [1464100, 0.59],
  [1465300, 0.3], [1466500, 0.85], [1467600, 0.21], [1468800, 0.49], [1470000, 0.14], [1471100, 0.7],
  [1472300, 0.36], [1473500, 0.56], [1474600, 0.1], [1475800, 0.63], [1477000, 0.27], [1478100, 0.42],
  [1479300, 0.18], [1480500, 0.73], [1481600, 0.33], [1482800, 0.51], [1484000, 0.08], [1485100, 0.6],
  [1486300, 0.29], [1487500, 0.45], [1488600, 0.16], [1489800, 0.67], [1491000, 0.35], [1492100, 0.54],
  [1493300, 0.12], [1494500, 0.77], [1495600, 0.25], [1496800, 0.48], [1498000, 0.2], [1499100, 0.62],
  [1500300, 0.31], [1501500, 0.43], [1502600, 0.09], [1503800, 0.58], [1505000, 0.27], [1506100, 0.71],
  [1507300, 0.37], [1508500, 0.15], [1509600, 0.52], [1510800, 0.3],
];

const gray18eLow: Pt[] = [
  [1164700, 0.22], [1166000, 0.4], [1167100, 0.1], [1168300, 0.3], [1169500, 0.18], [1170600, 0.45],
  [1171800, 0.25], [1173000, 0.05], [1174200, 0.35], [1175400, 0.2], [1176500, 0.48], [1177700, 0.3],
  [1178900, 0.12], [1180000, 0.38], [1181200, 0.26], [1182400, 0.08], [1183600, 0.42], [1184700, 0.2],
  [1185900, 0.32], [1187000, 0.15], [1188300, 0.4], [1189400, 0.06], [1190600, 0.28], [1191800, 0.5],
  [1193000, 0.22], [1194100, 0.35], [1195300, 0.12], [1196400, 0.3], [1197600, 0.45], [1198700, 0.18],
  [1200000, 0.25], [1201100, 0.4], [1202300, 0.08], [1203500, 0.3], [1204600, 0.2], [1205800, 0.42],
  [1207000, 0.15], [1208100, 0.28], [1209300, 0.05], [1210400, 0.36], [1211600, 0.22], [1212800, 0.45],
  [1213900, 0.12], [1215100, 0.3], [1216300, 0.25], [1217400, 0.4], [1218600, 0.1], [1219800, 0.32],
  [1220900, 0.18], [1222100, 0.48], [1223300, 0.26], [1224400, 0.06], [1225600, 0.38], [1226800, 0.2],
  [1227900, 0.3], [1229100, 0.42], [1230300, 0.15], [1231400, 0.25], [1232600, 0.4], [1233800, 0.12],
  [1234900, 0.3], [1236100, 0.22], [1237300, 0.45], [1238400, 0.08], [1239600, 0.35], [1240800, 0.2],
  [1241900, 0.28], [1243100, 0.4], [1244300, 0.14], [1245400, 0.32], [1246600, 0.05], [1247800, 0.24],
  [1248900, 0.4], [1250100, 0.3], [1251300, 0.16], [1252400, 0.5], [1253600, 0.22], [1254800, 0.35],
  [1255900, 0.1], [1257100, 0.3], [1258300, 0.45], [1259400, 0.2], [1260600, 0.38], [1261800, 0.28],
  [1262900, 0.42], [1264100, 0.15], [1265300, 0.32], [1266400, 0.55], [1267600, 0.25], [1268800, 0.38],
  [1269900, 0.12], [1271100, 0.45], [1272300, 0.3], [1273400, 0.2], [1274600, 0.4], [1275800, 0.5],
  [1276900, 0.26], [1278100, 0.35], [1279300, 0.08], [1280400, 0.42], [1281600, 0.22], [1282800, 0.3],
  [1283900, 0.48], [1285100, 0.18], [1286300, 0.35], [1287400, 0.25], [1288600, 0.42], [1289800, 0.1],
  [1290900, 0.3], [1292100, 0.38], [1293300, 0.2], [1294400, 0.45], [1295600, 0.28], [1296800, 0.15],
  [1297900, 0.35], [1299100, 0.42], [1300300, 0.22], [1301400, 0.3], [1302600, 0.5], [1303800, 0.12],
  [1304900, 0.26], [1306100, 0.4], [1307300, 0.2], [1308400, 0.48], [1309600, 0.3], [1310800, 0.15],
  [1311900, 0.36], [1313100, 0.25], [1314300, 0.45], [1315400, 0.1], [1316600, 0.32], [1317800, 0.4],
  [1318900, 0.22], [1320100, 0.5], [1321300, 0.18], [1322400, 0.3], [1323600, 0.42], [1324800, 0.26],
  [1325900, 0.08], [1327100, 0.35], [1328300, 0.5], [1329400, 0.2], [1330600, 0.38], [1331800, 0.28],
  [1332900, 0.45], [1334100, 0.12], [1335300, 0.3], [1336400, 0.55], [1337600, 0.25], [1338800, 0.4],
  [1339900, 0.18], [1341100, 0.32], [1342300, 0.48], [1343400, 0.1], [1344600, 0.35], [1345800, 0.42],
  [1346900, 0.22], [1348100, 0.3], [1349300, 0.5], [1350400, 0.15], [1351600, 0.38], [1352800, 0.28],
  [1353900, 0.45], [1355100, 0.2], [1356300, 0.35], [1357400, 0.55], [1358600, 0.12], [1359800, 0.3],
  [1360900, 0.42], [1362100, 0.25], [1363300, 0.5], [1364400, 0.18], [1365600, 0.38], [1366800, 0.6],
  [1367900, 0.22], [1369100, 0.45], [1370300, 0.3], [1371400, 0.15], [1372600, 0.4], [1373800, 0.55],
  [1374900, 0.26], [1376100, 0.35], [1377300, 0.62], [1378400, 0.2], [1379600, 0.45], [1380800, 0.3],
  [1381900, 0.52], [1383100, 0.12], [1384300, 0.38], [1385400, 0.58], [1386600, 0.25], [1387800, 0.42],
  [1388900, 0.3], [1390100, 0.48], [1391300, 0.16], [1392400, 0.35], [1393600, 0.55], [1394800, 0.22],
  [1395900, 0.4], [1397100, 0.3], [1398300, 0.5], [1399400, 0.18], [1400600, 0.36], [1401800, 0.6],
  [1402900, 0.25], [1404100, 0.42], [1405300, 0.12], [1406400, 0.32], [1407600, 0.48], [1408800, 0.2],
  [1409900, 0.38], [1411100, 0.55], [1412300, 0.28], [1413400, 0.4], [1414600, 0.15], [1415800, 0.35],
  [1416900, 0.5], [1418100, 0.22], [1419300, 0.42], [1420400, 0.3], [1421600, 0.58], [1422800, 0.18],
  [1423900, 0.35], [1425100, 0.45], [1426300, 0.25], [1427400, 0.38], [1428600, 0.08], [1429800, 0.3],
  [1430900, 0.42], [1432100, 0.2], [1433300, 0.35], [1434400, 0.48], [1435600, 0.15], [1436800, 0.28],
  [1437900, 0.4], [1439100, 0.1], [1440300, 0.32], [1441400, 0.22], [1442600, 0.45], [1443800, 0.3],
  [1444900, 0.18], [1446100, 0.38], [1447300, 0.25], [1448400, 0.05], [1449600, 0.35], [1450800, 0.42],
  [1451900, 0.2], [1453100, 0.3], [1454300, 0.12], [1455400, 0.45], [1456600, 0.28], [1457800, 0.38],
  [1458900, 0.15], [1460100, 0.3], [1461300, 0.22], [1462400, 0.4], [1463600, 0.1], [1464800, 0.35],
  [1465900, 0.25], [1467100, 0.48], [1468300, 0.18], [1469400, 0.32], [1470600, 0.06], [1471800, 0.4],
  [1472900, 0.22], [1474100, 0.3], [1475300, 0.45], [1476400, 0.15], [1477600, 0.35], [1478800, 0.25],
  [1479900, 0.4], [1481100, 0.1], [1482300, 0.3], [1483400, 0.2], [1484600, 0.42], [1485800, 0.28],
  [1486900, 0.12], [1488100, 0.36], [1489300, 0.22], [1490400, 0.45], [1491600, 0.3], [1492800, 0.16],
  [1493900, 0.38], [1495100, 0.25], [1496300, 0.06], [1497400, 0.32], [1498600, 0.42], [1499800, 0.2],
  [1500900, 0.28], [1502100, 0.38], [1503300, 0.15], [1504400, 0.3], [1505600, 0.45], [1506800, 0.2],
  [1507900, 0.35], [1509100, 0.1], [1510300, 0.28], [1511400, 0.4],
];

const genes18eGrey: Span[] = [
  [1163700, 1173550], [1177910, 1179470], [1180190, 1186000], [1186600, 1193000], [1193600, 1212850],
  [1426830, 1434570], [1439190, 1452530], [1454610, 1457150], [1458980, 1460800], [1463330, 1476000],
  [1476700, 1482000], [1482700, 1489810],
];
const genes18eRed: Span[] = [[1238620, 1251170]];

const fst18m: Pt[] = [
  [647620, 0.318], [650670, 0.221], [653190, 0.194], [655750, 0.297], [659090, 0.395], [660840, 0.38],
  [662820, 0.297], [665530, 0.259], [667560, 0.275], [670130, 0.253], [672980, 0.228], [675160, 0.253],
  [677730, 0.361], [680780, 0.423], [683630, 0.361], [687020, 0.253], [689200, 0.212], [691230, 0.243],
  [693260, 0.383], [695490, 0.63], [697670, 0.704], [699700, 0.711], [701880, 0.684], [704780, 0.661],
  [706820, 0.69], [709870, 0.722], [712380, 0.708], [714560, 0.73], [717130, 0.684], [719980, 0.609],
  [722010, 0.636], [725060, 0.733], [726760, 0.744], [729270, 0.736], [731840, 0.663], [734360, 0.614],
  [736580, 0.704], [738610, 0.749], [740650, 0.706], [742830, 0.555], [745340, 0.544], [747380, 0.533],
  [750090, 0.479], [752990, 0.372], [755510, 0.334], [758890, 0.399], [761410, 0.533], [764320, 0.628],
  [766490, 0.587], [768190, 0.55], [770750, 0.674], [773270, 0.786], [775790, 0.794], [778350, 0.802],
  [782220, 0.862], [784260, 0.835], [787310, 0.722], [789680, 0.792], [792390, 0.916], [795240, 0.879],
  [797810, 0.835], [800320, 0.868], [803710, 0.891], [806570, 0.889], [808790, 0.883], [813010, 0.932],
  [815520, 0.913], [818090, 0.909], [820610, 0.879], [823990, 0.728], [826560, 0.469], [829080, 0.275],
  [830770, 0.219], [834160, 0.226], [836680, 0.189], [840070, 0.151], [842100, 0.151], [844270, 0.124],
  [846840, 0.104], [850230, 0.167], [853280, 0.221], [856130, 0.178], [858650, 0.151], [862040, 0.14],
  [865420, 0.135], [867990, 0.124], [871380, 0.101], [874230, 0.135], [877280, 0.165], [880670, 0.158],
  [883190, 0.21], [885410, 0.361], [889090, 0.525], [892140, 0.447], [895040, 0.35], [898440, 0.286],
  [901770, 0.178], [904340, 0.13], [905700, 0.14],
];

const red18m: Pt[] = [];
const red18mFaint: Pt[] = [[703090, 2.61], [709190, 2.55]];
const black18m: Pt[] = [[703090, 1.12], [709190, 0.93]];

const gray18m: Pt[] = [
  [648000, 0.29], [649200, 0.25], [650400, 0.32], [651600, 0.5], [652400, 0.65], [653200, 0.42], [654000, 0.3],
  [655200, 0.24], [656400, 0.28], [657600, 0.2], [658800, 0.3], [660000, 0.22], [661200, 0.26], [662400, 0.18],
  [663600, 0.31], [664800, 0.23], [666000, 0.27], [667200, 0.19], [668400, 0.3], [669600, 0.24], [670800, 0.2],
  [672000, 0.28], [673200, 0.15], [674400, 0.05], [675600, 0.12], [676800, 0.22], [678000, 0.3], [679200, 0.38],
  [680400, 0.26], [681600, 0.42], [682800, 0.33], [684000, 0.28], [685200, 0.45], [686400, 0.36], [687600, 0.3],
  [688800, 0.5], [690000, 0.42], [691200, 0.58], [692400, 0.38], [693600, 0.62], [694800, 0.46], [696000, 0.55],
  [697200, 0.4], [698400, 0.5], [699600, 0.6], [700800, 0.35], [702100, 1.62], [702200, 1.39], [702300, 1.26],
  [702400, 0.82], [703600, 0.45], [704800, 0.55], [706000, 0.38], [707200, 0.5], [708400, 0.42], [709600, 0.6],
  [710800, 0.35], [712000, 0.52], [713200, 0.45], [714400, 0.88], [715000, 0.8], [715800, 0.4], [717000, 0.55],
  [718200, 0.33], [719400, 0.48], [720600, 0.26], [721800, 0.4], [723000, 0.52], [724200, 0.3], [725400, 0.45],
  [726600, 0.22], [727800, 0.5], [729000, 0.36], [730200, 0.28], [731400, 0.55], [732600, 0.4], [733800, 0.3],
  [735000, 0.48], [736200, 0.25], [737400, 0.6], [737900, 1.15], [738000, 1.05], [739000, 0.35], [740200, 0.22],
  [741400, 0.4], [742600, 0.3], [743800, 0.18], [745000, 0.45], [746200, 0.28], [747400, 0.36], [748600, 0.15],
  [749800, 0.42], [751000, 0.3], [752200, 0.24], [753400, 0.5], [754600, 0.2], [755800, 0.38], [757000, 0.28],
  [758200, 0.45], [759400, 0.32], [760600, 0.18], [761800, 0.4], [763000, 0.52], [764200, 0.3], [765400, 0.45],
  [766600, 0.38], [767800, 0.56], [769000, 0.28], [770200, 0.48], [771400, 0.35], [772600, 0.6], [773800, 0.42],
  [775000, 0.3], [776200, 0.55], [777400, 0.38], [778600, 0.5], [779800, 0.28], [781000, 0.45], [782200, 0.6],
  [783400, 0.36], [784600, 0.52], [785800, 0.42], [787000, 0.3], [788200, 0.62], [789400, 0.5], [790600, 0.72],
  [791800, 0.4], [793000, 0.58], [794200, 0.45], [795400, 0.78], [796600, 0.5], [797800, 0.62], [799000, 0.38],
  [800200, 0.7], [801400, 0.55], [802600, 0.4], [803600, 0.2], [804400, 0.06], [805000, 0.12], [805800, 0.02],
  [806800, 0.3], [808000, 0.52], [809200, 0.4], [810400, 0.62], [811600, 0.3], [812800, 0.48], [814000, 0.35],
  [815200, 0.55], [816200, 1.4], [816300, 1.2], [816400, 1.0], [816500, 0.86], [817600, 0.45], [818800, 0.3],
  [820000, 0.22], [821200, 0.4], [822400, 0.28], [823600, 0.35], [824800, 0.18], [826000, 0.3], [827200, 0.25],
  [828400, 0.42], [829600, 0.5], [830800, 0.45], [832000, 0.55], [833200, 0.48], [834400, 0.52], [835600, 0.44],
  [836800, 0.58], [838000, 0.5], [839200, 0.46], [840400, 0.56], [841600, 0.5], [842800, 0.6], [844000, 0.48],
  [845200, 0.54], [846400, 0.45], [847600, 0.58], [848800, 0.5], [850000, 0.42], [851200, 0.52], [852400, 0.58],
  [853600, 0.47], [854800, 0.55], [856000, 0.5], [857200, 0.42], [858400, 0.35], [859600, 0.48], [860800, 0.4],
  [862000, 0.55], [863200, 0.45], [864400, 0.38], [865600, 0.52], [866800, 0.6], [868000, 0.44], [869200, 0.5],
  [870400, 0.36], [871600, 0.48], [872800, 0.55], [874000, 0.4], [875200, 0.5], [876400, 0.58], [877600, 0.45],
  [878800, 0.52], [880000, 0.4], [881200, 0.28], [882400, 0.22], [883600, 0.26], [884800, 0.2], [886000, 0.25],
  [887200, 0.22], [888400, 0.28], [889600, 0.24], [890800, 0.3], [892000, 0.26], [893200, 0.2], [894400, 0.35],
  [895600, 0.5], [896800, 0.42], [898000, 0.6], [899200, 0.3], [900400, 0.45], [901600, 0.22], [902800, 0.52],
  [904000, 0.35], [905200, 0.4],
];

const gray18mLow: Pt[] = [
  [648600, 0.25], [650000, 0.3], [651000, 0.4], [653800, 0.35], [655800, 0.26], [657000, 0.22], [659400, 0.25],
  [660600, 0.2], [662000, 0.24], [664200, 0.28], [665400, 0.2], [667800, 0.25], [669000, 0.22], [671400, 0.26],
  [672600, 0.18], [675000, 0.08], [677400, 0.25], [678600, 0.32], [680000, 0.3], [681000, 0.35], [683400, 0.4],
  [684600, 0.3], [686000, 0.4], [688200, 0.45], [689400, 0.38], [690600, 0.5], [693000, 0.48], [695400, 0.52],
  [696600, 0.45], [698000, 0.55], [700200, 0.42], [703000, 0.4], [704200, 0.48], [706600, 0.45], [707800, 0.35],
  [710200, 0.5], [711400, 0.42], [713800, 0.55], [716400, 0.48], [717600, 0.38], [720000, 0.4], [721200, 0.3],
  [722400, 0.45], [724800, 0.38], [726000, 0.3], [728400, 0.42], [729600, 0.32], [732000, 0.45], [734400, 0.38],
  [735600, 0.3], [738600, 0.28], [740800, 0.3], [742000, 0.25], [744400, 0.32], [745600, 0.22], [748000, 0.3],
  [750400, 0.35], [751600, 0.25], [754000, 0.3], [756400, 0.32], [757600, 0.38], [760000, 0.25], [762400, 0.35],
  [764800, 0.4], [766000, 0.45], [768400, 0.42], [770800, 0.4], [772000, 0.5], [774400, 0.45], [776800, 0.42],
  [778000, 0.45], [780400, 0.38], [782800, 0.5], [784000, 0.45], [786400, 0.38], [787600, 0.5], [790000, 0.6],
  [791200, 0.55], [793600, 0.5], [794800, 0.6], [797200, 0.55], [798400, 0.48], [800800, 0.6], [802000, 0.45],
  [807400, 0.42], [809800, 0.5], [811000, 0.45], [813400, 0.4], [814600, 0.45], [818200, 0.38], [819400, 0.32],
  [821800, 0.3], [823000, 0.32], [825400, 0.25], [826600, 0.35], [829000, 0.45], [831400, 0.5], [833800, 0.5],
  [836200, 0.52], [838600, 0.55], [841000, 0.52], [843400, 0.55], [845800, 0.5], [848200, 0.55], [850600, 0.48],
  [853000, 0.52], [855400, 0.5], [857800, 0.45], [859000, 0.42], [861400, 0.5], [863800, 0.42], [866200, 0.55],
  [868600, 0.48], [871000, 0.42], [873400, 0.5], [875800, 0.48], [878200, 0.5], [880600, 0.35], [883000, 0.25],
  [885400, 0.22], [887800, 0.25], [890200, 0.28], [892600, 0.24], [895000, 0.42], [897400, 0.5], [899800, 0.38],
  [902200, 0.4], [904600, 0.45],
];

const genes18mGrey: Span[] = [
  [648450, 656090], [661270, 664800], [665300, 676760], [781300, 781700], [832130, 835950], [841660, 850270],
  [851820, 863290], [865960, 874180], [875540, 879360], [880860, 887010], [888170, 891000], [891500, 892380],
];
const genes18mRed: Span[] = [[705460, 707200]];

const pTicksTop = [2, 4, 6];
const pTicksBottom = [0, 2, 4, 6];
const fstTicks = [0.2, 0.4, 0.6, 0.8, 1.0];

// ---------- drawing ----------
const asP = (a: Pt[]) => a.map(([pos, p]) => ({ pos, p }));
const asFst = (a: Pt[]) => a.map(([pos, fst]) => ({ pos, fst }));

const dot = (r: number, fill: string, opacity = 1) => (props: any) =>
  props.cx == null ? <g /> : <circle cx={props.cx} cy={props.cy} r={r} fill={fill} fillOpacity={opacity} />;

const grayDot = dot(2.5, "#bababa");
const blackDot = dot(4.2, "#111111", 0.68);
const redDot = dot(3.1, "#ff1a00");
const redFaintDot = dot(3.1, "#ff1a00", 0.5);

const NoLabel = () => <g />;

function FstTick(props: any) {
  const { x, y, payload } = props;
  return (
    <g>
      <line x1={x - 6} x2={x} y1={y} y2={y} stroke="#333" strokeWidth={1.2} />
      <text x={x - 21} y={y} textAnchor="end" dominantBaseline="central" fill={FST_TEXT}
        fontSize={16} fontWeight={700} fontFamily={FONT}>
        {Number(payload.value).toFixed(1)}
      </text>
    </g>
  );
}

type PanelProps = {
  plot: [number, number, number, number];
  xOrient: "top" | "bottom";
  xDomain: [number, number];
  xTicks: number[];
  pDomain: [number, number];
  fstDomain: [number, number];
  pTicks: number[];
  pLabels: boolean;
  threshold: number;
  geneBand: [number, number];
  gray: Pt[];
  grayLow: Pt[];
  black: Pt[];
  red: Pt[];
  redFaint: Pt[];
  fst: Pt[];
  greyGenes: Span[];
  redGenes: Span[];
};

function Panel(pr: PanelProps) {
  const [px, py, pw, ph] = pr.plot;
  const axisH = pr.xOrient === "top" ? 66 : 50;
  const leftW = 67;
  const rightW = 40;
  const W = leftW + pw + rightW;
  const H = ph + axisH;
  const top = pr.xOrient === "top" ? py - axisH : py;
  const tickStyle = { fill: TICK_GREY, fontSize: 15, fontFamily: FONT };
  return (
    <div style={{ position: "absolute", left: px - leftW, top, width: W, height: H }}>
      <ComposedChart width={W} height={H} margin={{ top: 0, right: 0, bottom: 0, left: 0 }}>
        <XAxis type="number" dataKey="pos" orientation={pr.xOrient} height={axisH} domain={pr.xDomain}
          ticks={pr.xTicks} interval={0} allowDataOverflow scale="linear" axisLine={false}
          tickSize={6} tickMargin={pr.xOrient === "top" ? 3 : 5} tickLine={{ stroke: "#333" }} tick={tickStyle} />
        <YAxis yAxisId="p" dataKey="p" type="number" orientation="left" width={leftW} domain={pr.pDomain}
          ticks={pr.pTicks} interval={0} allowDataOverflow axisLine={false} tickSize={6} tickMargin={3}
          tickLine={{ stroke: "#333" }} tick={pr.pLabels ? tickStyle : NoLabel} />
        <YAxis yAxisId="fst" dataKey="fst" type="number" orientation="right" width={rightW} domain={pr.fstDomain}
          ticks={fstTicks} interval={0} allowDataOverflow axisLine={false} tickLine={false} tickSize={0}
          tickMargin={0} tick={FstTick} />
        {pr.greyGenes.map(([a, b], i) => (
          <ReferenceArea key={"g" + i} yAxisId="p" x1={a} x2={b} y1={pr.geneBand[0]} y2={pr.geneBand[1]}
            fill={GENE_GREY} fillOpacity={1} stroke="none" ifOverflow="hidden" />
        ))}
        {pr.redGenes.map(([a, b], i) => (
          <ReferenceArea key={"r" + i} yAxisId="p" x1={a} x2={b} y1={pr.geneBand[0]} y2={pr.geneBand[1]}
            fill={RED} fillOpacity={1} stroke="none" ifOverflow="hidden" />
        ))}
        <ReferenceLine yAxisId="p" y={pr.threshold} stroke="#bdbdbd" strokeWidth={1.5} strokeDasharray="9 6" />
        <Scatter yAxisId="p" data={asP(pr.grayLow)} dataKey="p" shape={grayDot} isAnimationActive={false} />
        <Scatter yAxisId="p" data={asP(pr.gray)} dataKey="p" shape={grayDot} isAnimationActive={false} />
        <Line yAxisId="fst" data={asFst(pr.fst)} dataKey="fst" type="monotone" stroke={FST_LINE}
          strokeWidth={2.6} dot={false} activeDot={false} isAnimationActive={false} />
        <Scatter yAxisId="p" data={asP(pr.black)} dataKey="p" shape={blackDot} isAnimationActive={false} />
        <Scatter yAxisId="p" data={asP(pr.redFaint)} dataKey="p" shape={redFaintDot} isAnimationActive={false} />
        <Scatter yAxisId="p" data={asP(pr.red)} dataKey="p" shape={redDot} isAnimationActive={false} />
      </ComposedChart>
    </div>
  );
}

function LogPTitle({ cy }: { cy: number }) {
  return (
    <text transform={`translate(38,${cy}) rotate(-90)`} textAnchor="middle" fontSize={19} fontWeight={700}
      fontFamily={FONT} fill="#000">
      -log<tspan fontSize={13} dy={5}>10</tspan><tspan dy={-5}>(P)</tspan>
    </text>
  );
}

function FstTitle({ cy }: { cy: number }) {
  return (
    <text transform={`translate(1191,${cy}) rotate(90)`} textAnchor="middle" fontSize={19} fontWeight={700}
      fontFamily={FONT} fill={FST_TITLE}>
      Fst (high vs low)
    </text>
  );
}

export default function App() {
  const A_TOP: [number, number, number, number] = [67, 66, 533, 333];
  const A_BOT: [number, number, number, number] = [67, 400, 533, 335];
  const B_TOP: [number, number, number, number] = [646, 66, 535, 333];
  const B_BOT: [number, number, number, number] = [646, 400, 535, 335];

  return (
    <div style={{ position: "fixed", left: 0, top: 0, width: 1217, height: 785, background: "#fff", overflow: "hidden" }}>
      <Panel plot={A_TOP} xOrient="top" xDomain={[14699500, 15038100]} xTicks={erato13Ticks}
        pDomain={[0, 6.45]} fstDomain={[0, 1.074]} pTicks={pTicksTop} pLabels threshold={0.85}
        geneBand={[5.63, 5.8]} gray={gray13e} grayLow={gray13eLow} black={black13e} red={red13e}
        redFaint={red13eFaint} fst={fst13e} greyGenes={genes13eGrey} redGenes={genes13eRed} />
      <Panel plot={A_BOT} xOrient="bottom" xDomain={[10645500, 10948700]} xTicks={melp13Ticks}
        pDomain={[0, 6.5]} fstDomain={[0, 1.083]} pTicks={pTicksBottom} pLabels threshold={0.89}
        geneBand={[5.63, 5.82]} gray={gray13m} grayLow={gray13mLow} black={black13m} red={red13m}
        redFaint={red13mFaint} fst={fst13m} greyGenes={genes13mGrey} redGenes={genes13mRed} />
      <Panel plot={B_TOP} xOrient="top" xDomain={[1163600, 1511700]} xTicks={erato18Ticks}
        pDomain={[0, 6.45]} fstDomain={[0, 1.074]} pTicks={pTicksTop} pLabels={false} threshold={0.85}
        geneBand={[5.63, 5.8]} gray={gray18e} grayLow={gray18eLow} black={black18e} red={red18e}
        redFaint={red18eFaint} fst={fst18e} greyGenes={genes18eGrey} redGenes={genes18eRed} />
      <Panel plot={B_BOT} xOrient="bottom" xDomain={[646800, 905800]} xTicks={melp18Ticks}
        pDomain={[0, 6.5]} fstDomain={[0, 1.083]} pTicks={pTicksBottom} pLabels={false} threshold={0.89}
        geneBand={[5.63, 5.82]} gray={gray18m} grayLow={gray18mLow} black={black18m} red={red18m}
        redFaint={red18mFaint} fst={fst18m} greyGenes={genes18mGrey} redGenes={genes18mRed} />

      <svg width={1217} height={785} style={{ position: "absolute", left: 0, top: 0, pointerEvents: "none" }}>
        <g fill="none" stroke="#000" strokeWidth={2}>
          <rect x={67} y={66} width={533} height={333} />
          <rect x={67} y={400} width={533} height={335} />
          <rect x={646} y={66} width={535} height={333} />
          <rect x={646} y={400} width={535} height={335} />
        </g>
        <line x1={67} x2={600} y1={399.5} y2={399.5} stroke="#000" strokeWidth={3} />
        <line x1={646} x2={1181} y1={399.5} y2={399.5} stroke="#000" strokeWidth={3} />

        <g fontFamily={FONT}>
          <text x={19} y={32} fontSize={28} fontWeight={700}>A</text>
          <text x={618} y={32} fontSize={28} fontWeight={700}>B</text>

          <text x={333.5} y={31} fontSize={18} textAnchor="middle">
            <tspan fontStyle="italic">H. erato</tspan> positions (bp)
          </text>
          <text x={913.5} y={31} fontSize={18} textAnchor="middle">
            <tspan fontStyle="italic">H. erato</tspan> positions (bp)
          </text>
          <text x={333.5} y={780} fontSize={18} textAnchor="middle">
            <tspan fontStyle="italic">H. melpomene</tspan> positions (bp)
          </text>
          <text x={913.5} y={780} fontSize={18} textAnchor="middle">
            <tspan fontStyle="italic">H. melpomene</tspan> positions (bp)
          </text>

          <text x={75} y={87} fontSize={18}>chr. 13</text>
          <text x={75} y={422} fontSize={18}>chr. 13</text>
          <text x={654} y={87} fontSize={18}>chr. 18</text>
          <text x={654} y={422} fontSize={18}>chr. 18</text>
          <text x={540} y={87} fontSize={23} fontWeight={700} fontStyle="italic" fill={RED} textAnchor="end">rugose</text>
          <text x={540} y={422} fontSize={23} fontWeight={700} fontStyle="italic" fill={RED} textAnchor="end">rugose</text>
          <text x={740} y={87} fontSize={23} fontWeight={700} fontStyle="italic" fill={RED}>optix</text>
          <text x={740} y={422} fontSize={23} fontWeight={700} fontStyle="italic" fill={RED}>optix</text>
        </g>

        <LogPTitle cy={232} />
        <LogPTitle cy={568} />
        <FstTitle cy={233} />
        <FstTitle cy={566} />
      </svg>
    </div>
  );
}
